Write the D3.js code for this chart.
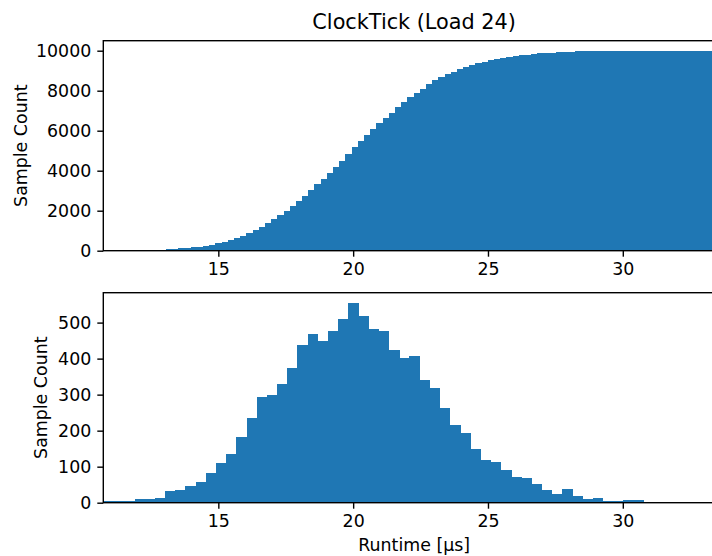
<!DOCTYPE html>
<html>
<head>
<meta charset="utf-8">
<script src="https://cdn.jsdelivr.net/npm/d3@7"></script>
<style>
  body { margin: 0; background: #fff; }
  text { font-family: "DejaVu Sans", sans-serif; }
</style>
</head>
<body>
<svg id="chart"></svg>
<script>
// Chart data
const chartTitle = "ClockTick (Load 24)";
const xLabel = "Runtime [µs]";
const yLabel = "Sample Count";

const binStart = 10.76;        // left edge of first bin, µs
const cumBinWidth = 0.2296;    // width of cumulative bins, µs
const histBinWidth = 0.3776;   // width of histogram bins, µs

// Cumulative counts (top panel), one per bin
const cumCounts = [
  3, 5, 6, 8, 10, 13, 18, 24, 30, 40,
  70, 75, 130, 140, 180, 190, 235, 285, 370, 420,
  525, 620, 730, 880, 1030, 1190, 1380, 1580, 1790, 1990,
  2235, 2485, 2735, 3035, 3335, 3585, 3885, 4185, 4485, 4835,
  5185, 5485, 5785, 6085, 6385, 6635, 6885, 7185, 7435, 7685,
  7885, 8085, 8335, 8535, 8685, 8835, 8935, 9085, 9185, 9285,
  9385, 9435, 9535, 9585, 9635, 9685, 9735, 9785, 9800, 9835,
  9885, 9890, 9895, 9930, 9940, 9945, 9970, 9970, 9970, 10000,
  10000, 10000, 10000, 10000, 10000, 10000, 10000, 10000, 10000, 10000,
  10000, 10000, 10000, 10000, 10000, 10000, 10000, 10000, 10000, 10000
];

// Histogram counts (bottom panel), one per bin
const histCounts = [
  4, 5, 4, 11, 11, 14, 33, 36, 47, 58,
  83, 110, 135, 182, 235, 293, 298, 329, 373, 439,
  467, 450, 478, 511, 555, 519, 483, 478, 425, 403,
  406, 340, 318, 262, 215, 193, 149, 119, 113, 91,
  72, 69, 52, 36, 25, 39, 19, 11, 14, 5,
  5, 8, 8
];

const xTicks = [15, 20, 25, 30];
const cumYTicks = [0, 2000, 4000, 6000, 8000, 10000];
const histYTicks = [0, 100, 200, 300, 400, 500];

// Layout
const width = 712;
const height = 556;
const plotLeft = 103.3;
const plotRight = 725;
const panels = [
  { top: 40.7, bottom: 250.7, yMax: 10500, ticks: cumYTicks, labelX: 27,
    counts: cumCounts, binWidth: cumBinWidth },
  { top: 292.7, bottom: 502.7, yMax: 583, ticks: histYTicks, labelX: 47,
    counts: histCounts, binWidth: histBinWidth }
];
const barColor = "#1f77b4";
const tickFont = "17.4px";

const svg = d3.select("#chart")
  .attr("width", width)
  .attr("height", height);

const x = d3.scaleLinear()
  .domain([10.734, 33.79])
  .range([plotLeft, plotRight]);

panels.forEach((p, i) => {
  const y = d3.scaleLinear()
    .domain([0, p.yMax])
    .range([p.bottom, p.top]);

  const bins = p.counts.map((c, k) => ({
    x0: binStart + k * p.binWidth,
    x1: binStart + (k + 1) * p.binWidth,
    count: c
  }));

  const clipId = "clip" + i;
  svg.append("clipPath").attr("id", clipId)
    .append("rect")
    .attr("x", plotLeft).attr("y", p.top)
    .attr("width", plotRight - plotLeft).attr("height", p.bottom - p.top);

  // Bars
  svg.append("g")
    .attr("clip-path", `url(#${clipId})`)
    .attr("fill", barColor)
    .attr("shape-rendering", "crispEdges")
    .selectAll("rect")
    .data(bins)
    .join("rect")
    .attr("x", d => x(d.x0))
    .attr("y", d => y(d.count))
    .attr("width", d => x(d.x1) - x(d.x0) + 0.3)
    .attr("height", d => y(0) - y(d.count));

  // X axis
  const gx = svg.append("g")
    .attr("transform", `translate(0,${p.bottom})`)
    .call(d3.axisBottom(x).tickValues(xTicks).tickSize(6).tickPadding(6));
  gx.select(".domain").remove();

  // Y axis
  const gy = svg.append("g")
    .attr("transform", `translate(${plotLeft},0)`)
    .call(d3.axisLeft(y).tickValues(p.ticks).tickSize(6).tickPadding(6).tickFormat(d3.format("d")));
  gy.select(".domain").remove();

  [gx, gy].forEach(g => {
    g.selectAll(".tick line").attr("stroke", "#000").attr("stroke-width", 1.4);
    g.selectAll(".tick text")
      .attr("fill", "#000")
      .style("font-size", tickFont)
      .style("font-family", "'DejaVu Sans', sans-serif");
  });

  // Spines
  svg.append("rect")
    .attr("x", plotLeft).attr("y", p.top)
    .attr("width", plotRight - plotLeft).attr("height", p.bottom - p.top)
    .attr("fill", "none")
    .attr("stroke", "#000")
    .attr("stroke-width", 1.4);

  // Y label
  svg.append("text")
    .attr("transform", `translate(${p.labelX},${(p.top + p.bottom) / 2}) rotate(-90)`)
    .attr("text-anchor", "middle")
    .style("font-size", tickFont)
    .text(yLabel);
});

// Title
svg.append("text")
  .attr("x", (plotLeft + plotRight) / 2)
  .attr("y", 29)
  .attr("text-anchor", "middle")
  .style("font-size", "20.8px")
  .text(chartTitle);

// X label
svg.append("text")
  .attr("x", (plotLeft + plotRight) / 2)
  .attr("y", 551)
  .attr("text-anchor", "middle")
  .style("font-size", tickFont)
  .text(xLabel);
</script>
</body>
</html>
